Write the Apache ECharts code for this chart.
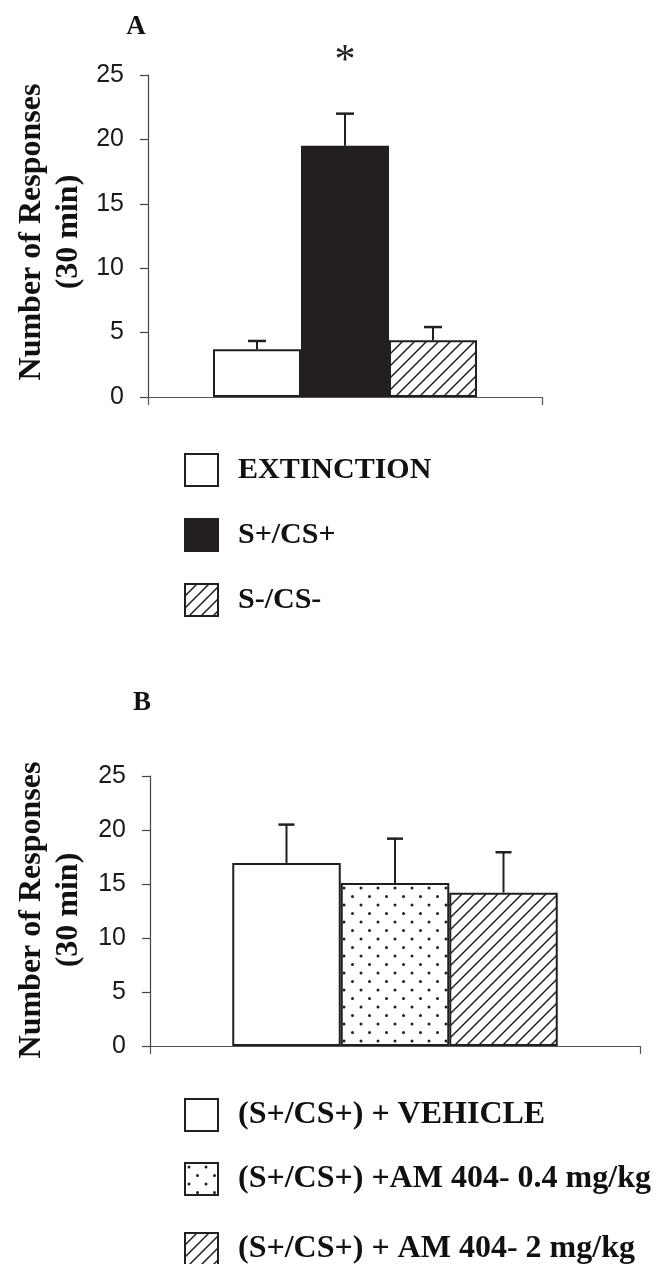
<!DOCTYPE html>
<html><head><meta charset="utf-8">
<script src="https://cdn.jsdelivr.net/npm/echarts@6/dist/echarts.min.js"></script>
<style>html,body{margin:0;padding:0;background:#fff}#c{width:662px;height:1264px}</style>
</head><body><div id="c"></div>
<script>
// ---- data ----
const namesA = ['EXTINCTION', 'S+/CS+', 'S-/CS-'];
const meanA = [3.7, 19.5, 4.4];
const semA = [0.65, 2.5, 1.03];
const sigA = ['', '*', ''];
const namesB = ['(S+/CS+) + VEHICLE', '(S+/CS+) +AM 404- 0.4 mg/kg', '(S+/CS+) + AM 404- 2 mg/kg'];
const meanB = [16.95, 15.1, 14.2];
const semB = [3.55, 4.1, 3.74];
const sigB = ['', '', ''];
const yMin = 0, yMax = 25, yStep = 5;
const yTitle = 'Number of Responses\n(30 min)';

// ---- patterns ----
const BLACK = '#231f20';
function hatch() {
  const s = 12, c = document.createElement('canvas');
  c.width = s; c.height = s;
  const g = c.getContext('2d');
  g.fillStyle = '#fff'; g.fillRect(0, 0, s, s);
  g.strokeStyle = BLACK; g.lineWidth = 1.5;
  g.beginPath();
  g.moveTo(-1, s + 1); g.lineTo(s + 1, -1);
  g.moveTo(-2, 2); g.lineTo(2, -2);
  g.moveTo(s - 2, s + 2); g.lineTo(s + 2, s - 2);
  g.stroke();
  return {image: c, repeat: 'repeat'};
}
function dots() {
  const w = 17, h = 17, c = document.createElement('canvas');
  c.width = w; c.height = h;
  const g = c.getContext('2d');
  g.fillStyle = '#fff'; g.fillRect(0, 0, w, h);
  g.fillStyle = BLACK;
  [[4, 4], [12.5, 12.5]].forEach(p => { g.beginPath(); g.arc(p[0], p[1], 1.5, 0, Math.PI * 2); g.fill(); });
  return {image: c, repeat: 'repeat'};
}
const fillsA = ['#ffffff', BLACK, hatch()];
const fillsB = ['#ffffff', dots(), hatch()];

const chart = echarts.init(document.getElementById('c'), null, {renderer: 'canvas'});
const grids = [
  {left: 148, right: 120, top: 75, bottom: 867, barW: 88, cap: 18, legendFont: 30},
  {left: 150, right: 22, top: 776, bottom: 218, barW: 108.5, cap: 16, legendFont: 32}
];
const axisCol = '#444';
function yAx(i) {
  return {type: 'value', gridIndex: i, min: yMin, max: yMax, interval: yStep,
    axisLine: {show: true, lineStyle: {color: axisCol, width: 1.2}},
    axisTick: {show: true, length: 8, lineStyle: {color: axisCol, width: 1.2}},
    axisLabel: {margin: 24, fontFamily: 'Liberation Sans', fontSize: 25, color: '#1a1a1a'},
    splitLine: {show: false}};
}
function xAx(i) {
  return {type: 'category', gridIndex: i, data: [''], boundaryGap: true,
    axisLine: {lineStyle: {color: '#555', width: 1.2}},
    axisTick: {show: true, length: 8, interval: 0, lineStyle: {color: '#555', width: 1.2}},
    axisLabel: {show: false}};
}
const series = [];
const legends = [];
function panel(gi, names, means, sems, sigs, fills, legendTops) {
  const bw = grids[gi].barW, cap = grids[gi].cap;
  names.forEach((n, k) => {
    series.push({type: 'bar', name: n, xAxisIndex: gi, yAxisIndex: gi,
      data: [means[k]], barWidth: bw, barGap: '0%',
      itemStyle: {color: fills[k], borderColor: BLACK, borderWidth: 2},
      emphasis: {disabled: true}, z: 2});
    legends.push({data: [n], orient: 'vertical', left: 184, top: legendTops[k], padding: 0,
      itemWidth: 33, itemHeight: 32, icon: 'rect', selectedMode: false,
      itemStyle: {borderColor: BLACK, borderWidth: 2},
      textStyle: {fontFamily: 'Liberation Serif', fontWeight: 'bold', fontSize: grids[gi].legendFont, color: '#111', padding: [0, 0, 0, 15]}});
  });
  series.push({type: 'custom', xAxisIndex: gi, yAxisIndex: gi, z: 5, silent: true,
    data: means.map((m, k) => [0, m, sems[k], k]),
    renderItem: function (params, api) {
      const k = api.value(3);
      const base = api.coord([api.value(0), api.value(1)]);
      const top = api.coord([api.value(0), api.value(1) + api.value(2)]);
      const x = base[0] + (k - 1) * bw;
      const children = [
        {type: 'line', shape: {x1: x, y1: base[1], x2: x, y2: top[1]}, style: {stroke: BLACK, lineWidth: 2}},
        {type: 'line', shape: {x1: x - cap / 2, y1: top[1], x2: x + cap / 2, y2: top[1]}, style: {stroke: BLACK, lineWidth: 2.5}}
      ];
      if (sigs[k]) children.push({type: 'text', x: x, y: top[1] - 52,
        style: {text: sigs[k], font: '42px "Liberation Serif"', fill: BLACK, align: 'center', verticalAlign: 'middle'}});
      return {type: 'group', children: children};
    }});
}
panel(0, namesA, meanA, semA, sigA, fillsA, [453, 518, 583]);
panel(1, namesB, meanB, semB, sigB, fillsB, [1098, 1162, 1232]);

const titleStyle = {text: yTitle, font: 'bold 32px "Liberation Serif"', fill: '#111', align: 'center', verticalAlign: 'middle', lineHeight: 37};
chart.setOption({
  animation: false,
  grid: grids.map(g => ({left: g.left, right: g.right, top: g.top, bottom: g.bottom})),
  xAxis: [xAx(0), xAx(1)],
  yAxis: [yAx(0), yAx(1)],
  legend: legends,
  series: series,
  graphic: [
    {type: 'text', x: 136, y: 27, style: {text: 'A', font: 'bold 27px "Liberation Serif"', fill: '#111', align: 'center', verticalAlign: 'middle'}},
    {type: 'text', x: 142, y: 703, style: {text: 'B', font: 'bold 27px "Liberation Serif"', fill: '#111', align: 'center', verticalAlign: 'middle'}},
    {type: 'text', x: 50, y: 232, rotation: Math.PI / 2, style: titleStyle},
    {type: 'text', x: 50, y: 910, rotation: Math.PI / 2, style: titleStyle}
  ]
});
</script></body></html>
